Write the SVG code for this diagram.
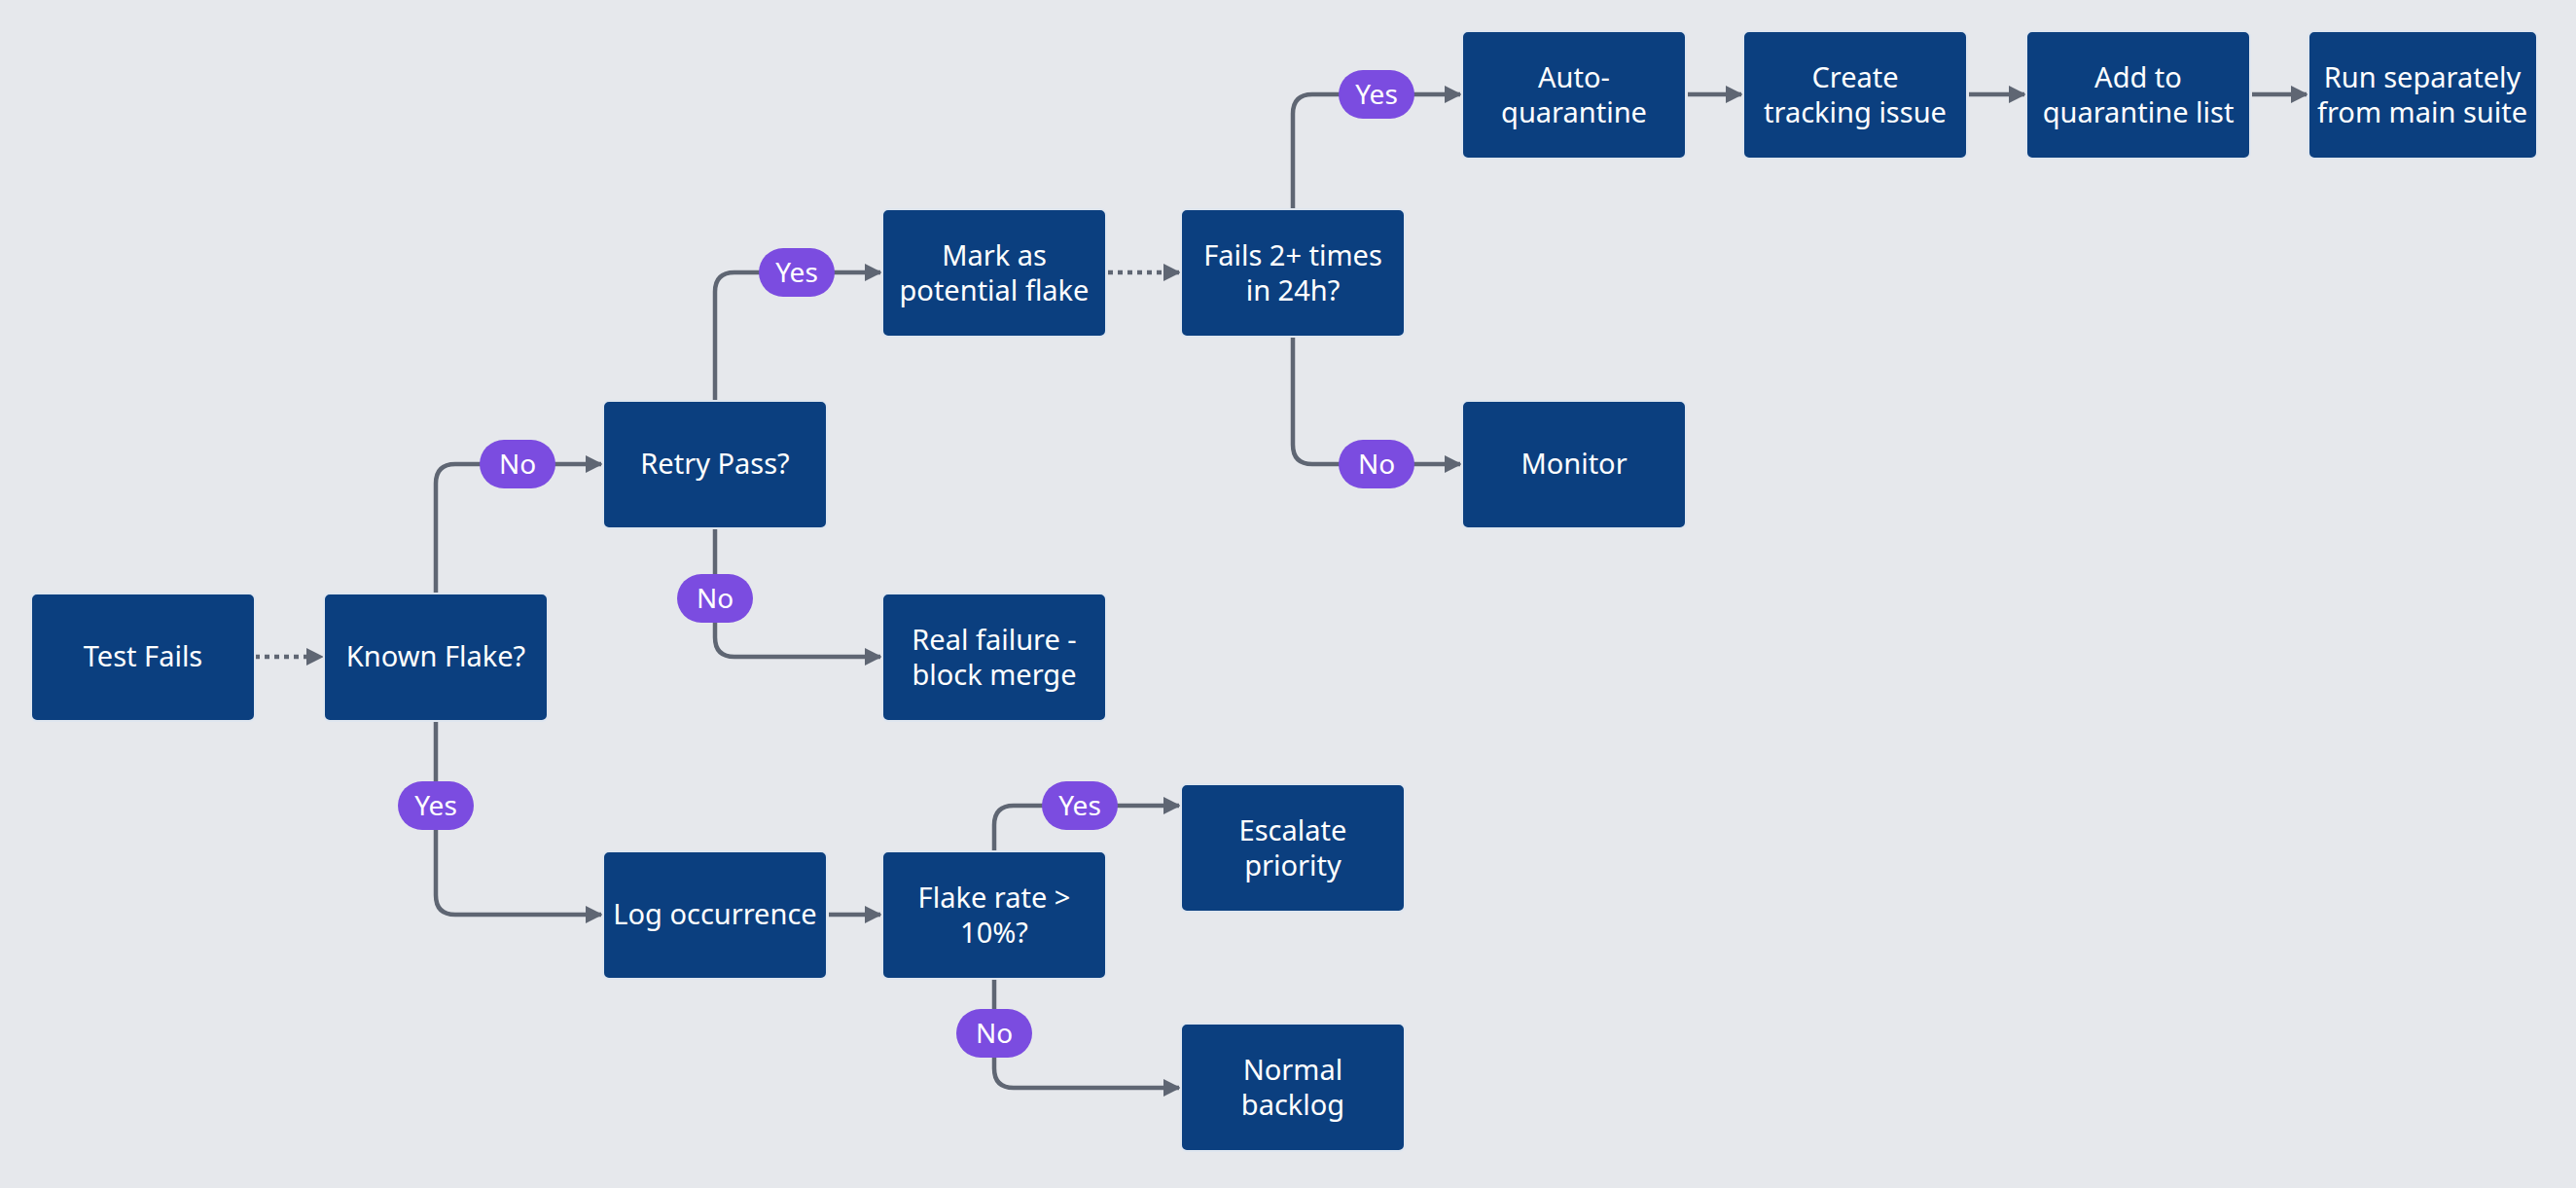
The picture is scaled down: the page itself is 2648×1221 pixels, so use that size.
<svg xmlns="http://www.w3.org/2000/svg" width="2648" height="1221" viewBox="0 0 2648 1221">
<defs>
<marker id="ah" viewBox="0 0 10 10" refX="9" refY="5" markerWidth="4" markerHeight="4" orient="auto" markerUnits="strokeWidth"><path d="M0,0 L10,5 L0,10 z" fill="#5f6673"/></marker>
</defs>
<style>
.n{fill:#0b3f7f;stroke:#dfe6ef;stroke-width:2}
.t{fill:#fff;font-family:"Noto Sans","Open Sans",sans-serif;font-size:29px;text-anchor:middle}
.c{fill:none;stroke:#5f6673;stroke-width:4.5;marker-end:url(#ah)}
.d{stroke-dasharray:5 5}
.p{fill:#7b4ce0}
.pt{fill:#fff;font-family:"Noto Sans","Open Sans",sans-serif;font-size:28px;text-anchor:middle}
</style>
<rect width="2648" height="1221" fill="#e6e8ec"/>
<g id="connectors">
<path class="c d" d="M262,675 H331"/>
<path class="c" d="M448,610 V497 Q448,477 468,477 H618"/>
<path class="c" d="M448,741 V920 Q448,940 468,940 H618"/>
<path class="c" d="M735,412 V300 Q735,280 755,280 H905"/>
<path class="c" d="M735,543 V655 Q735,675 755,675 H905"/>
<path class="c d" d="M1139,280 H1212"/>
<path class="c" d="M1329,215 V117 Q1329,97 1349,97 H1501"/>
<path class="c" d="M1329,346 V457 Q1329,477 1349,477 H1501"/>
<path class="c" d="M1735,97 H1790"/>
<path class="c" d="M2024,97 H2081"/>
<path class="c" d="M2315,97 H2371"/>
<path class="c" d="M852,940 H905"/>
<path class="c" d="M1022,875 V848 Q1022,828 1042,828 H1212"/>
<path class="c" d="M1022,1006 V1098 Q1022,1118 1042,1118 H1212"/>
<g><rect class="p" x="493" y="452" width="78" height="50" rx="25"/><text class="pt" x="532" y="487">No</text></g>
<g><rect class="p" x="409" y="803" width="78" height="50" rx="25"/><text class="pt" x="448" y="838">Yes</text></g>
<g><rect class="p" x="780" y="255" width="78" height="50" rx="25"/><text class="pt" x="819" y="290">Yes</text></g>
<g><rect class="p" x="696" y="590" width="78" height="50" rx="25"/><text class="pt" x="735" y="625">No</text></g>
<g><rect class="p" x="1376" y="72" width="78" height="50" rx="25"/><text class="pt" x="1415" y="107">Yes</text></g>
<g><rect class="p" x="1376" y="452" width="78" height="50" rx="25"/><text class="pt" x="1415" y="487">No</text></g>
<g><rect class="p" x="1071" y="803" width="78" height="50" rx="25"/><text class="pt" x="1110" y="838">Yes</text></g>
<g><rect class="p" x="983" y="1037" width="78" height="50" rx="25"/><text class="pt" x="1022" y="1072">No</text></g>
</g>
<g id="test-fails"><rect class="n" x="32" y="610" width="230" height="131" rx="6"/><text class="t" x="147" y="685">Test Fails</text></g>
<g id="known-flake"><rect class="n" x="333" y="610" width="230" height="131" rx="6"/><text class="t" x="448" y="685">Known Flake?</text></g>
<g id="retry-pass"><rect class="n" x="620" y="412" width="230" height="131" rx="6"/><text class="t" x="735" y="487">Retry Pass?</text></g>
<g id="mark"><rect class="n" x="907" y="215" width="230" height="131" rx="6"/><text class="t" x="1022" y="273">Mark as</text><text class="t" x="1022" y="309">potential flake</text></g>
<g id="fails24"><rect class="n" x="1214" y="215" width="230" height="131" rx="6"/><text class="t" x="1329" y="273">Fails 2+ times</text><text class="t" x="1329" y="309">in 24h?</text></g>
<g id="auto"><rect class="n" x="1503" y="32" width="230" height="131" rx="6"/><text class="t" x="1618" y="90">Auto-</text><text class="t" x="1618" y="126">quarantine</text></g>
<g id="create"><rect class="n" x="1792" y="32" width="230" height="131" rx="6"/><text class="t" x="1907" y="90">Create</text><text class="t" x="1907" y="126">tracking issue</text></g>
<g id="add"><rect class="n" x="2083" y="32" width="230" height="131" rx="6"/><text class="t" x="2198" y="90">Add to</text><text class="t" x="2198" y="126">quarantine list</text></g>
<g id="run"><rect class="n" x="2373" y="32" width="235" height="131" rx="6"/><text class="t" x="2490" y="90">Run separately</text><text class="t" x="2490" y="126">from main suite</text></g>
<g id="monitor"><rect class="n" x="1503" y="412" width="230" height="131" rx="6"/><text class="t" x="1618" y="487">Monitor</text></g>
<g id="real"><rect class="n" x="907" y="610" width="230" height="131" rx="6"/><text class="t" x="1022" y="668">Real failure -</text><text class="t" x="1022" y="704">block merge</text></g>
<g id="log"><rect class="n" x="620" y="875" width="230" height="131" rx="6"/><text class="t" x="735" y="950">Log occurrence</text></g>
<g id="rate"><rect class="n" x="907" y="875" width="230" height="131" rx="6"/><text class="t" x="1022" y="933">Flake rate &gt;</text><text class="t" x="1022" y="969">10%?</text></g>
<g id="escalate"><rect class="n" x="1214" y="806" width="230" height="131" rx="6"/><text class="t" x="1329" y="864">Escalate</text><text class="t" x="1329" y="900">priority</text></g>
<g id="backlog"><rect class="n" x="1214" y="1052" width="230" height="131" rx="6"/><text class="t" x="1329" y="1110">Normal</text><text class="t" x="1329" y="1146">backlog</text></g>
</svg>
